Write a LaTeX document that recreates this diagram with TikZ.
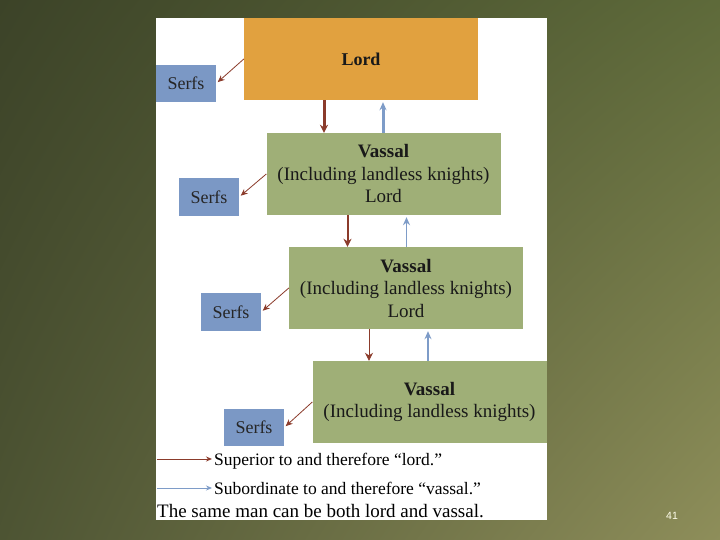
\documentclass[tikz,border=0pt]{standalone}
\usepackage{fontspec}
\setmainfont{Liberation Serif}
\newfontfamily\pagefont{Liberation Sans}
\usetikzlibrary{arrows.meta,positioning,calc,shadings}

\definecolor{bgDark}{HTML}{3C4328}
\definecolor{bgTopRight}{HTML}{5E6A3A}
\definecolor{bgBottomLeft}{HTML}{4D5433}
\definecolor{bgLight}{HTML}{8E8E5A}
\definecolor{lordOrange}{HTML}{E1A13F}
\definecolor{vassalGreen}{HTML}{9FAF77}
\definecolor{serfBlue}{HTML}{7B98C5}
\definecolor{supBrown}{HTML}{8B3B2B}
\definecolor{subBlue}{HTML}{7E9CC8}

\tikzset{
  bigbox/.style={minimum width=234pt, minimum height=82pt, inner sep=2pt,
    align=center, text=black!90, font=\fontsize{19}{22.5}\selectfont},
  lordbox/.style={bigbox, fill=lordOrange, font=\fontsize{18}{22.5}\selectfont},
  vassalbox/.style={bigbox, fill=vassalGreen},
  serfbox/.style={fill=serfBlue, minimum width=60pt, minimum height=37.5pt,
    inner sep=1pt, text=black!85, font=\fontsize{18}{20}\selectfont},
  supA/.style={supBrown, -{Stealth[length=8pt,width=8pt]}},
  subA/.style={subBlue, -{Stealth[length=8pt,width=7pt]}, shorten >=2pt},
  serfA/.style={supBrown, line width=0.8pt, -{Stealth[length=7pt,width=6pt]}, shorten >=2pt},
  legtext/.style={anchor=west, inner sep=2pt, font=\fontsize{17.5}{20}\selectfont}
}

\begin{document}
\begin{tikzpicture}[x=1pt, y=-1pt]

% ================= BACKGROUND =================
\useasboundingbox (0,0) rectangle (720,540);
\shade[upper left=bgDark, upper right=bgTopRight,
       lower left=bgBottomLeft, lower right=bgLight] (0,0) rectangle (720,540);
\fill[white] (156,18) rectangle (547,520);

% ================= BOXES =================
\node[lordbox] (lord) at (361,59) {\textbf{Lord}};
\node[serfbox] (serfs0) at (186,83.5) {Serfs};

\node[vassalbox] (vas1) at (383.5,174)
{\textbf{Vassal}\\(Including landless knights)\\Lord};
\node[serfbox] (serfs1) at (209,197) {Serfs};

\node[vassalbox] (vas2) at (406,288)
{\textbf{Vassal}\\(Including landless knights)\\Lord};
\node[serfbox] (serfs2) at (231,312) {Serfs};

\node[vassalbox] (vas3) at (429.5,402)
{\textbf{Vassal}\\(Including landless knights)};
\node[serfbox] (serfs3) at (254,427.5) {Serfs};

% ================= ARROWS =================
% lord -> serfs
\draw[serfA] (lord.west) -- (serfs0.east);
\draw[serfA] (vas1.west) -- (serfs1.east);
\draw[serfA] (vas2.west) -- (serfs2.east);
\draw[serfA] (vas3.west) -- (serfs3.east);

% superior (down) and subordinate (up)
\draw[supA, line width=3pt] ([xshift=-37pt]lord.south) -- ([xshift=-37pt]lord.south |- vas1.north);
\draw[subA, line width=3pt] ([xshift=22pt]lord.south |- vas1.north) -- ([xshift=22pt]lord.south);

\draw[supA, line width=2pt] ([xshift=-36pt]vas1.south) -- ([xshift=-36pt]vas1.south |- vas2.north);
\draw[subA, line width=1.5pt] ([xshift=23pt]vas1.south |- vas2.north) -- ([xshift=23pt]vas1.south);

\draw[supA, line width=0.8pt] ([xshift=-37pt]vas2.south) -- ([xshift=-37pt]vas2.south |- vas3.north);
\draw[subA, line width=1.2pt] ([xshift=22pt]vas2.south |- vas3.north) -- ([xshift=22pt]vas2.south);

% ================= LEGEND =================
\node[legtext] (legSup) at (212,461) {Superior to and therefore “lord.”};
\node[legtext] (legSub) at (212,488) {Subordinate to and therefore “vassal.”};
\node[legtext, font=\fontsize{19}{20}\selectfont] (note) at (155,511) {The same man can be both lord and vassal.};

\coordinate (supStart) at (157,459);
\coordinate (subStart) at (157,488);
\draw[supBrown, line width=1pt, -{Stealth[length=6pt,width=5pt]}] (supStart) -- (supStart -| legSup.west);
\draw[subBlue, line width=0.8pt, -{Stealth[length=6pt,width=5pt]}] (subStart) -- (subStart -| legSub.west);

\node[font=\pagefont\fontsize{10.5}{12}\selectfont, text=white!92!yellow] (pagenum) at (672,516) {41};

\end{tikzpicture}
\end{document}
